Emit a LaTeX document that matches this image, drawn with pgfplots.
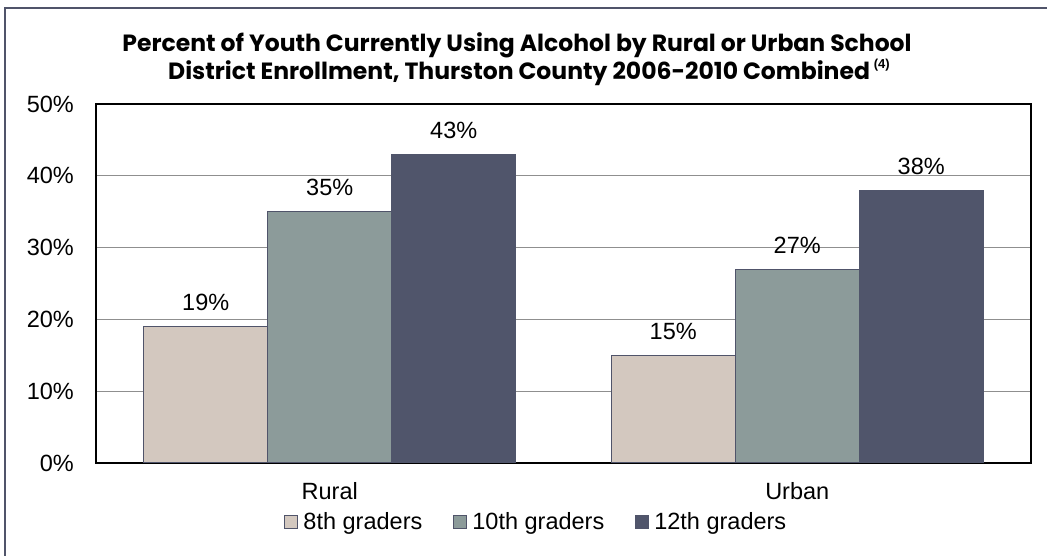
\documentclass[border=0pt]{standalone}
\usepackage{pgfplots}
\pgfplotsset{compat=1.18}
\usepackage{fontspec}
\setmainfont{Liberation Sans}
\newfontfamily\titlefont{Poppins}
\definecolor{c8}{HTML}{D3C8BF}
\definecolor{c10}{HTML}{8C9B9A}
\definecolor{c12}{HTML}{50556B}
\definecolor{edge}{HTML}{50546A}
\definecolor{gridc}{HTML}{8F8F8F}
\begin{document}
\begin{tikzpicture}[x=1pt,y=1pt]
\path[use as bounding box] (-96,-93) rectangle (951,463);
\draw[edge, line width=2pt] (-91,-93) -- (-91,455) -- (951,455);
\begin{axis}[
  at={(0pt,0pt)}, anchor=south west,
  scale only axis, width=935pt, height=359pt,
  ybar=0pt, bar width=124pt,
  xmin=-0.5, xmax=1.5, ymin=0, ymax=50,
  xtick={0,1}, xticklabels={Rural,Urban},
  ytick={0,10,20,30,40,50},
  yticklabels={0\%,10\%,20\%,30\%,40\%,50\%},
  major tick length=0pt,
  ymajorgrids, grid style={gridc, line width=1.3pt},
  axis line style={black, line width=1.3pt},
  font=\fontsize{23.5pt}{28pt}\selectfont,
  yticklabel style={anchor=east, inner sep=0pt, xshift=-22pt},
  xticklabel style={anchor=base, inner sep=0pt, yshift=-37pt},
  /pgf/number format/assume math mode=true,
  nodes near coords={\pgfmathprintnumber{\pgfplotspointmeta}\%},
  nodes near coords style={anchor=base, inner sep=0pt, yshift=16pt, font=\fontsize{23.5pt}{28pt}\selectfont, text=black},
  legend columns=3,
  legend style={draw=none, fill=none, at={(0.471,-0.164)}, anchor=center,
    font=\fontsize{23.5pt}{28pt}\selectfont,
    /tikz/every odd column/.append style={column sep=3pt},
    /tikz/every even column/.append style={column sep=29pt}},
  legend image code/.code={\draw[#1, draw=edge, line width=1pt] (0pt,-6.5pt) rectangle (13pt,6.5pt);},
  clip=false,
]
\addplot[fill=c8, draw=edge, line width=1pt] coordinates {(0,19) (1,15)};
\addplot[fill=c10, draw=edge, line width=1pt] coordinates {(0,35) (1,27)};
\addplot[fill=c12, draw=c12, line width=1pt] coordinates {(0,43) (1,38)};
\legend{8th graders,10th graders,12th graders}
\end{axis}
\node[anchor=base, inner sep=0pt] at (421,411) {\titlefont\bfseries\fontsize{23.5pt}{28pt}\selectfont Percent of Youth Currently Using Alcohol by Rural or Urban School};
\node[anchor=base, inner sep=0pt] at (433,383.5) {\titlefont\bfseries\fontsize{23.5pt}{28pt}\selectfont District Enrollment, Thurston County 2006-2010 Combined\,\raisebox{0.45em}{\rmfamily\fontsize{13pt}{15pt}\selectfont(4)}};
\end{tikzpicture}
\end{document}
